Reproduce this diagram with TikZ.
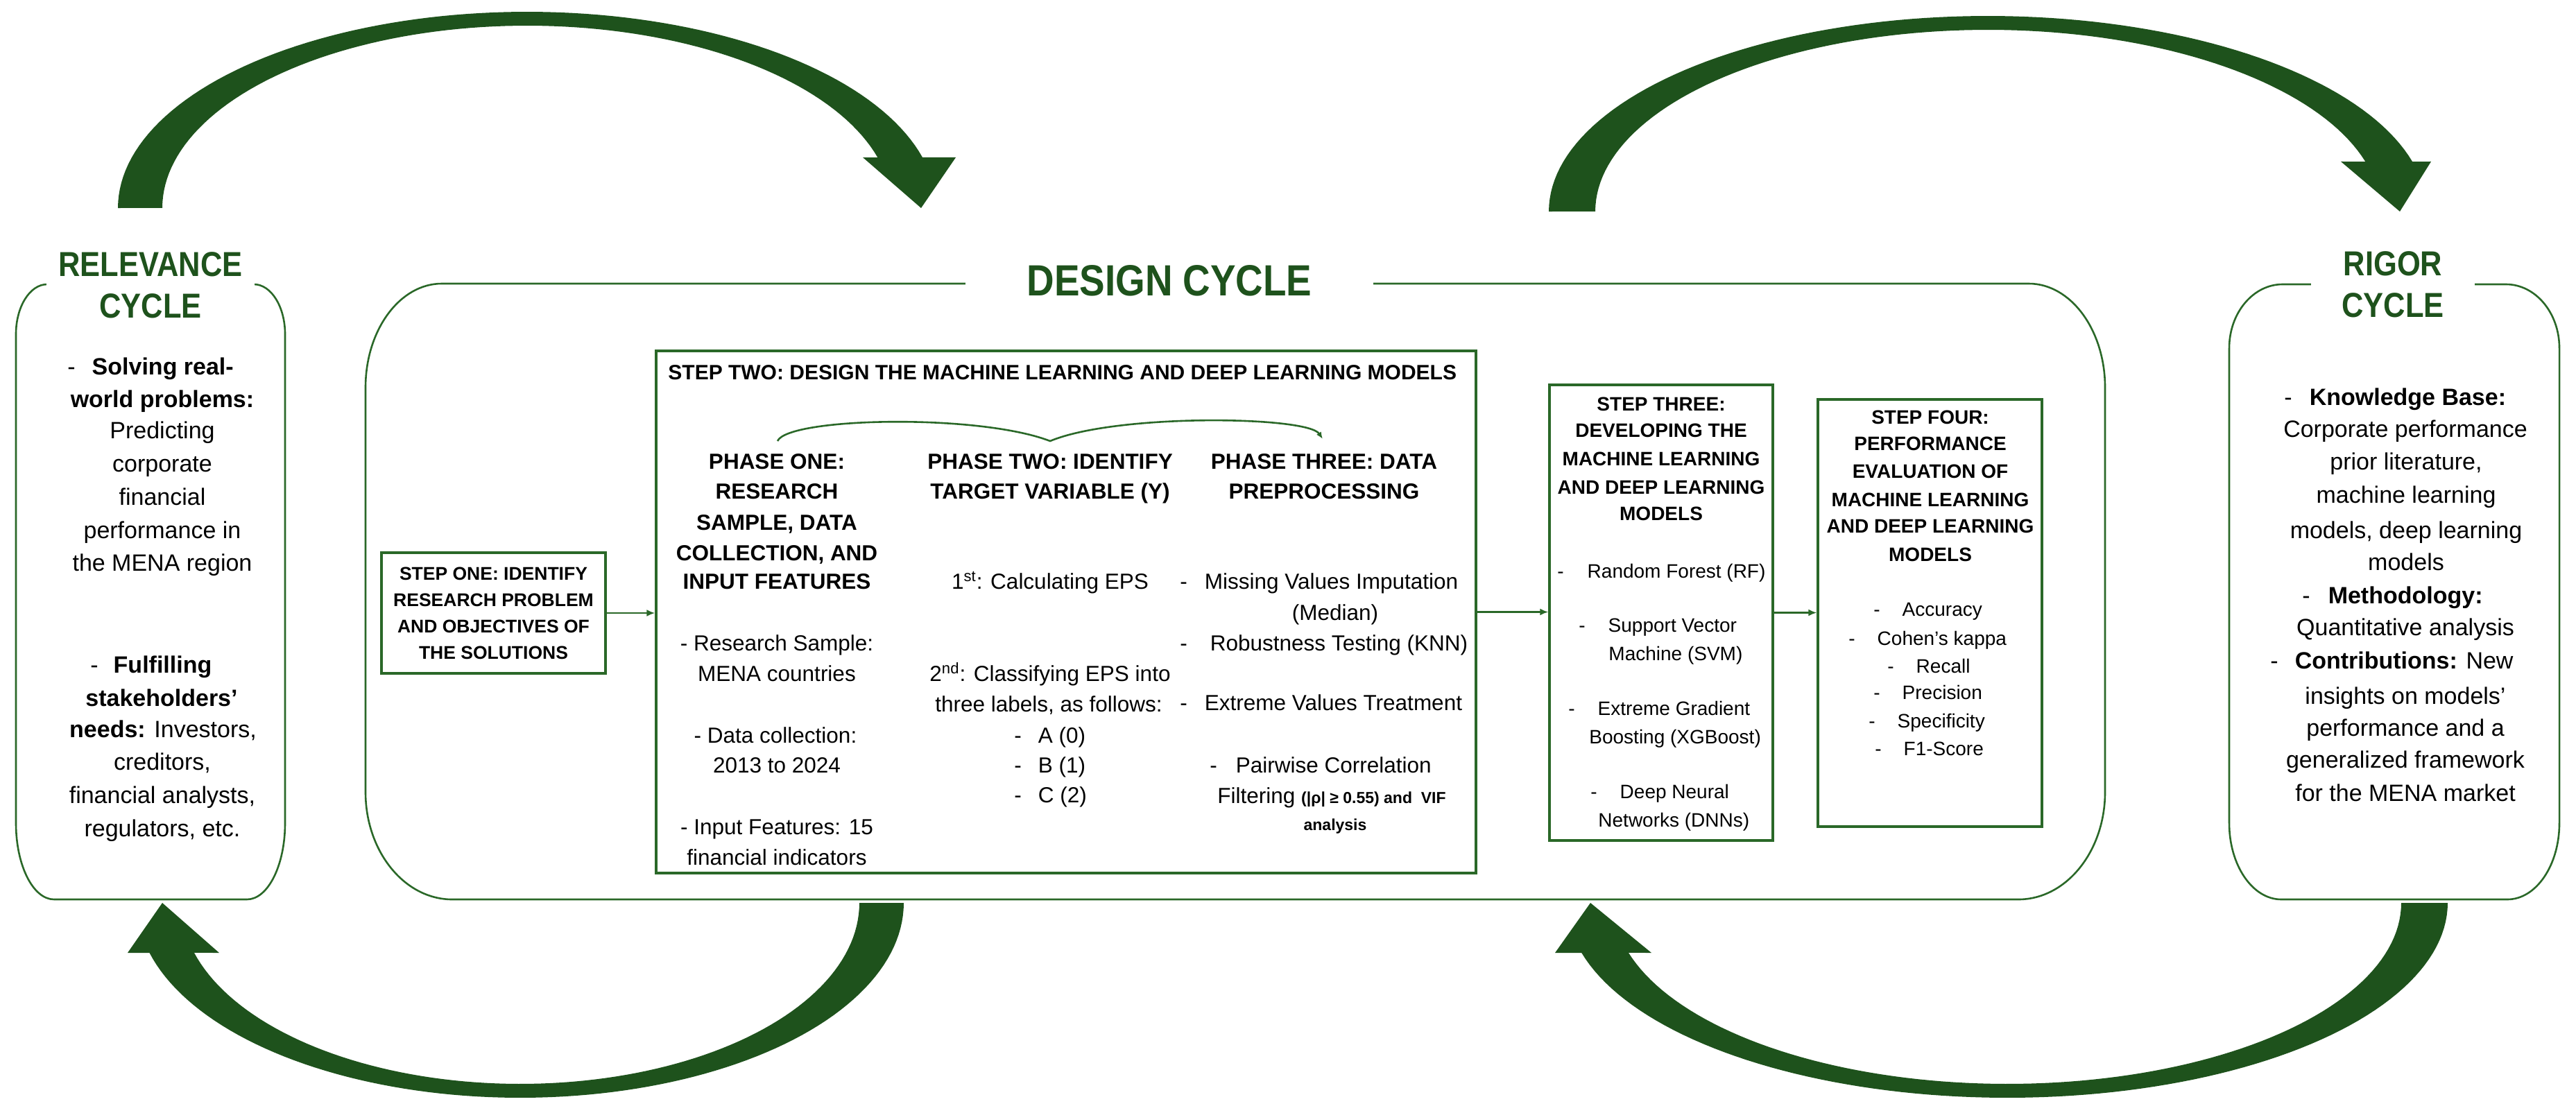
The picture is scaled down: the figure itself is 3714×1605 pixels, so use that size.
\documentclass[tikz,border=0pt]{standalone}
\usepackage{fontspec}
\setmainfont{Liberation Sans}
\newfontfamily\titlefont[FakeStretch=0.87]{Liberation Sans}
\usetikzlibrary{arrows.meta}
\definecolor{dkgreen}{RGB}{30,82,28}
\definecolor{lngreen}{RGB}{42,104,40}
\newcommand\cyclebox[8]{%
\draw[boxline] ({#1+#5},#2) -- ({#3-#5},#2)
 .. controls ({#3-0.448*#5},#2) and (#3,{#2+0.448*#6}) .. (#3,{#2+#6})
 -- (#3,{#4-#8})
 .. controls (#3,{#4-0.448*#8}) and ({#3-0.448*#7},#4) .. ({#3-#7},#4)
 -- ({#1+#7},#4)
 .. controls ({#1+0.448*#7},#4) and (#1,{#4-0.448*#8}) .. (#1,{#4-#8})
 -- (#1,{#2+#6})
 .. controls (#1,{#2+0.448*#6}) and ({#1+0.448*#5},#2) .. cycle;}
\begin{document}
\begin{tikzpicture}[x=0.5pt,y=-0.5pt,
  boxline/.style={draw=lngreen,line width=1.3pt},
  stepbox/.style={draw=lngreen,line width=1.6pt,inner sep=0pt},
  conn/.style={draw=lngreen,line width=1.4pt,-{Latex[length=6pt,width=5pt]}},
  brace/.style={draw=lngreen,line width=1.3pt,-{Latex[length=5pt,width=4pt]}},
  ttl/.style={font={\titlefont\bfseries\fontsize{25pt}{30pt}\selectfont},text=dkgreen,fill=white,align=center,inner xsep=0pt,inner ysep=4pt},
  cy/.style={font=\fontsize{17pt}{20pt}\selectfont,inner sep=0pt,text height=12.2pt,text depth=0pt},
  ph/.style={font=\fontsize{15.75pt}{19pt}\selectfont,inner sep=0pt,text height=11.3pt,text depth=0pt},
  phb/.style={ph,font=\bfseries\fontsize{15.75pt}{19pt}\selectfont},
  st/.style={font=\fontsize{14pt}{17pt}\selectfont,inner sep=0pt,text height=10pt,text depth=0pt},
  stb/.style={st,font=\bfseries\fontsize{14pt}{17pt}\selectfont}]
\useasboundingbox (0,0) rectangle (3714,1605);

% big cycle arrows
\fill[dkgreen] (170,300) -- plot[variable=\t,domain=180:345.05,samples=90] ({760+590*cos(\t)},{300+283*sin(\t)}) -- (1378,227) -- (1328,300) -- (1244,227) -- plot[variable=\t,domain=343.89:180,samples=90] ({760+526*cos(\t)},{300+263*sin(\t)}) -- cycle;
\fill[dkgreen] (2233,305) -- plot[variable=\t,domain=180:345.21,samples=90] ({2866+633*cos(\t)},{305+282*sin(\t)}) -- (3505,233) -- (3460,305) -- (3375,233) -- plot[variable=\t,domain=344.05:180,samples=90] ({2866+566*cos(\t)},{305+262*sin(\t)}) -- cycle;
\fill[dkgreen] (1303,1302) -- plot[variable=\t,domain=0:165.15,samples=90] ({750+553*cos(\t)},{1302+281*sin(\t)}) -- (184,1374) -- (234,1302) -- (316,1374) -- plot[variable=\t,domain=164.0:0,samples=90] ({750+489*cos(\t)},{1302+261*sin(\t)}) -- cycle;
\fill[dkgreen] (3529,1302) -- plot[variable=\t,domain=0:165.15,samples=90] ({2894+635*cos(\t)},{1302+281*sin(\t)}) -- (2242,1374) -- (2293,1302) -- (2381,1374) -- plot[variable=\t,domain=164.0:0,samples=90] ({2894+568*cos(\t)},{1302+261*sin(\t)}) -- cycle;

% cycle boxes
\cyclebox{23}{410}{411}{1297}{45}{72}{55}{110}
\cyclebox{527}{409}{3035}{1297}{110}{150}{125}{155}
\cyclebox{3214}{410}{3690}{1297}{77}{92}{75}{110}

% titles
\node[ttl,minimum width=150pt] (reltitle) at (217,411) {RELEVANCE\\CYCLE};
\node[ttl,minimum width=118pt] (rigtitle) at (3450,410) {RIGOR\\CYCLE};
\node[ttl,font={\titlefont\bfseries\fontsize{31.5pt}{36pt}\selectfont},minimum width=294pt,text height=22.7pt,text depth=0pt] (destitle) at (1686,404) {DESIGN CYCLE};

% relevance body
\node[cy,anchor=west] (rv1) at (97,528) {-\hspace{12pt}\textbf{Solving real-}};
\node[cy] (rv2) at (234,575) {\textbf{world problems:}};
\node[cy] (rv3) at (234,620) {Predicting};
\node[cy] (rv4) at (234,668) {corporate};
\node[cy] (rv5) at (234,716) {financial};
\node[cy] (rv6) at (234,764) {performance in};
\node[cy] (rv7) at (234,811) {the MENA region};
\node[cy,anchor=west] (rv8) at (130,958) {-\hspace{11pt}\textbf{Fulfilling}};
\node[cy] (rv9) at (233,1006) {\textbf{stakeholders’}};
\node[cy] (rv10) at (235,1051) {\textbf{needs:} Investors,};
\node[cy] (rv11) at (234,1098) {creditors,};
\node[cy] (rv12) at (234,1146) {financial analysts,};
\node[cy] (rv13) at (234,1194) {regulators, etc.};

% rigor body
\node[cy,anchor=west] (rg1) at (3293,572) {-\hspace{12.5pt}\textbf{Knowledge Base:}};
\node[cy] (rg2) at (3468,618) {Corporate performance};
\node[cy] (rg3) at (3469,665) {prior literature,};
\node[cy] (rg4) at (3469,713) {machine learning};
\node[cy] (rg5) at (3469,764) {models, deep learning};
\node[cy] (rg6) at (3469,810) {models};
\node[cy,anchor=west] (rg7) at (3319,858) {-\hspace{13pt}\textbf{Methodology:}};
\node[cy] (rg8) at (3468,904) {Quantitative analysis};
\node[cy,anchor=west] (rg9) at (3273,952) {-\hspace{12pt}\textbf{Contributions:} New};
\node[cy] (rg10) at (3468,1003) {insights on models’};
\node[cy] (rg11) at (3468,1049) {performance and a};
\node[cy] (rg12) at (3468,1095) {generalized framework};
\node[cy] (rg13) at (3468,1143) {for the MENA market};

% step boxes
\node[stepbox,minimum width=161.5pt,minimum height=87pt,align=center,font=\bfseries\fontsize{13.25pt}{19pt}\selectfont] (s1) at (711.5,884) {STEP ONE: IDENTIFY\\RESEARCH PROBLEM\\AND OBJECTIVES OF\\THE SOLUTIONS};
\node[stepbox,minimum width=591pt,minimum height=376.5pt] (s2) at (1537,882.5) {};
\node[stepbox,minimum width=161pt,minimum height=328.5pt] (s3) at (2395,883.5) {};
\node[stepbox,minimum width=161.5pt,minimum height=308pt] (s4) at (2782.5,884) {};

\draw[conn] (s1.east) -- (s1.east -| s2.west);
\draw[conn] (s2.east) -- (s2.east -| s3.west);
\draw[conn] (s3.east) -- (s3.east -| s4.west);

% step two contents
\node[ph,font=\bfseries\fontsize{15pt}{18pt}\selectfont,text height=10.8pt,anchor=west] (s2h) at (963,537) {STEP TWO: DESIGN THE MACHINE LEARNING AND DEEP LEARNING MODELS};

\coordinate (brL) at (1121,636);
\coordinate (brM) at (1514,636);
\coordinate (brR) at (1907,633);
\draw[brace] (brL) .. controls (1136,602) and (1410,596) .. (brM) .. controls (1610,596) and (1885,600) .. (brR);

\node[phb] (p1a) at (1120,665) {PHASE ONE:};
\node[phb] (p1b) at (1120,708) {RESEARCH};
\node[phb] (p1c) at (1120,753) {SAMPLE, DATA};
\node[phb] (p1d) at (1120,797) {COLLECTION, AND};
\node[phb] (p1e) at (1120,838) {INPUT FEATURES};
\node[ph] (p1f) at (1120,927) {- Research Sample:};
\node[ph] (p1g) at (1120,971) {MENA countries};
\node[ph] (p1h) at (1118,1060) {- Data collection:};
\node[ph] (p1i) at (1120,1103) {2013 to 2024};
\node[ph] (p1j) at (1120,1192) {- Input Features: 15};
\node[ph] (p1k) at (1120,1236) {financial indicators};

\node[phb] (p2a) at (1514,665) {PHASE TWO: IDENTIFY};
\node[phb] (p2b) at (1514,708) {TARGET VARIABLE (Y)};
\node[ph] (p2c) at (1514,838) {1\textsuperscript{st}: Calculating EPS};
\node[ph] (p2d) at (1514,971) {2\textsuperscript{nd}: Classifying EPS into};
\node[ph] (p2e) at (1512,1015) {three labels, as follows:};
\node[ph,anchor=west] (p2f) at (1462,1060) {-\hspace{12pt}A (0)};
\node[ph,anchor=west] (p2g) at (1462,1103) {-\hspace{12pt}B (1)};
\node[ph,anchor=west] (p2h) at (1462,1146) {-\hspace{12pt}C (2)};

\node[phb] (p3a) at (1909,665) {PHASE THREE: DATA};
\node[phb] (p3b) at (1909,708) {PREPROCESSING};
\node[ph,anchor=west] (p3c) at (1701,838) {-\hspace{12.5pt}Missing Values Imputation};
\node[ph] (p3d) at (1925,883) {(Median)};
\node[ph,anchor=west] (p3e) at (1701,927) {-\hspace{16.5pt}Robustness Testing (KNN)};
\node[ph,anchor=west] (p3f) at (1701,1013) {-\hspace{12.5pt}Extreme Values Treatment};
\node[ph,anchor=west] (p3g) at (1744,1103) {-\hspace{13.5pt}Pairwise Correlation};
\node[ph,anchor=west] (p3h) at (1755,1147) {Filtering {\bfseries\fontsize{11.5pt}{13pt}\selectfont (|ρ| ≥ 0.55) and\ \ VIF}};
\node[ph,font=\bfseries\fontsize{11.5pt}{13pt}\selectfont,text height=8.3pt] (p3i) at (1925,1189) {analysis};

% step three contents
\node[stb] (t3a) at (2395,582) {STEP THREE:};
\node[stb] (t3b) at (2395,620) {DEVELOPING THE};
\node[stb] (t3c) at (2395,661) {MACHINE LEARNING};
\node[stb] (t3d) at (2395,702) {AND DEEP LEARNING};
\node[stb] (t3e) at (2395,740) {MODELS};
\node[st,anchor=west] (t3f) at (2245,823) {-\hspace{17pt}Random Forest (RF)};
\node[st,anchor=west] (t3g) at (2276,901) {-\hspace{16.5pt}Support Vector};
\node[st,anchor=west] (t3h) at (2319,942) {Machine (SVM)};
\node[st,anchor=west] (t3i) at (2261,1021) {-\hspace{16.5pt}Extreme Gradient};
\node[st,anchor=west] (t3j) at (2291,1062) {Boosting (XGBoost)};
\node[st,anchor=west] (t3k) at (2293,1141) {-\hspace{16.5pt}Deep Neural};
\node[st,anchor=west] (t3l) at (2304,1182) {Networks (DNNs)};

% step four contents
\node[stb] (t4a) at (2783,601) {STEP FOUR:};
\node[stb] (t4b) at (2783,639) {PERFORMANCE};
\node[stb] (t4c) at (2783,679) {EVALUATION OF};
\node[stb] (t4d) at (2783,720) {MACHINE LEARNING};
\node[stb] (t4e) at (2783,758) {AND DEEP LEARNING};
\node[stb] (t4f) at (2783,799) {MODELS};
\node[st,anchor=west] (t4g) at (2701,878) {-\hspace{16pt}Accuracy};
\node[st,anchor=west] (t4h) at (2665,920) {-\hspace{16pt}Cohen’s kappa};
\node[st,anchor=west] (t4i) at (2721,960) {-\hspace{16pt}Recall};
\node[st,anchor=west] (t4j) at (2701,998) {-\hspace{16pt}Precision};
\node[st,anchor=west] (t4k) at (2694,1039) {-\hspace{16pt}Specificity};
\node[st,anchor=west] (t4l) at (2703,1079) {-\hspace{16pt}F1-Score};
\end{tikzpicture}
\end{document}
